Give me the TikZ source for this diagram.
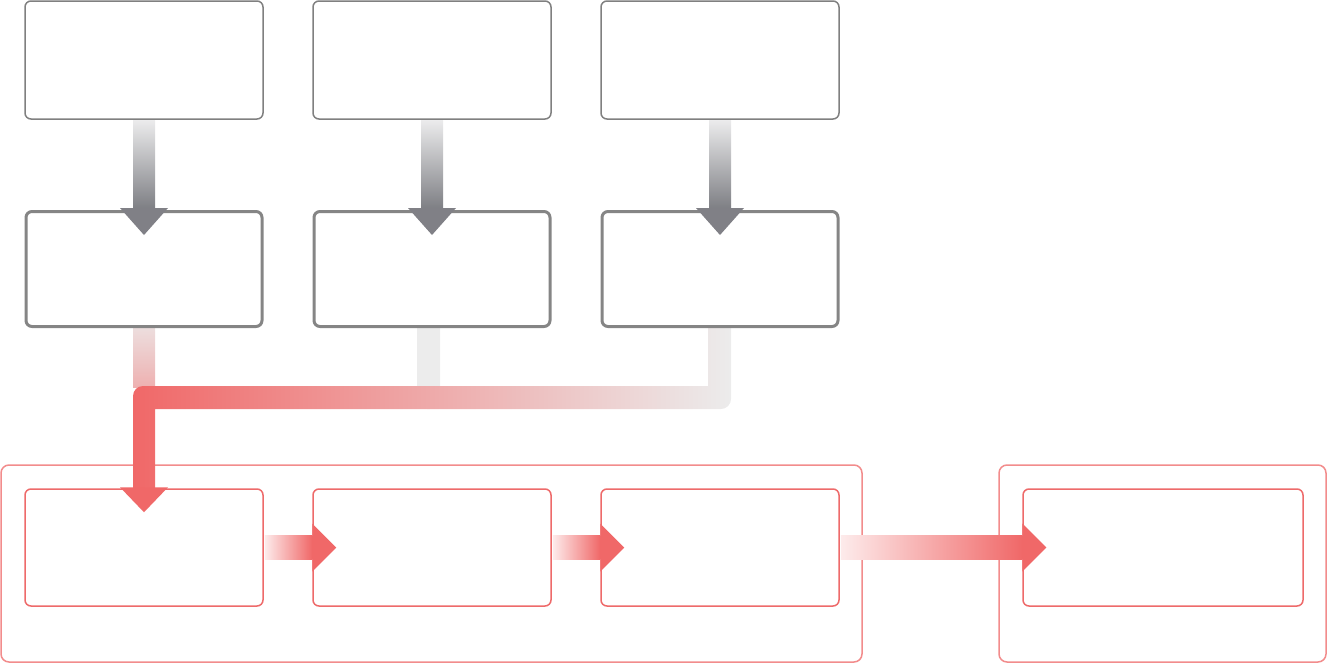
\documentclass[tikz,border=0pt]{standalone}
\usetikzlibrary{calc}
\definecolor{redc}{HTML}{F06868}
\definecolor{redb}{HTML}{EE6A6A}
\definecolor{redl}{HTML}{F28C8C}
\definecolor{grayb}{HTML}{808080}
\definecolor{graybb}{HTML}{858585}
\definecolor{grayhead}{HTML}{808086}
\definecolor{graytop}{HTML}{EBEBEC}
\definecolor{graybot}{HTML}{7E7F84}
\definecolor{fade}{HTML}{ECECEC}
\definecolor{bandmid}{RGB}{206,160,160}
\definecolor{pinkfade}{HTML}{FDEBEB}
\tikzset{
  topbox/.style={draw=grayb, line width=1.5pt, fill=white, rounded corners=6pt, minimum width=238pt, minimum height=118pt, inner sep=0pt},
  midbox/.style={draw=graybb, line width=3pt, fill=white, rounded corners=6pt, minimum width=236pt, minimum height=115pt, inner sep=0pt},
  lowbox/.style={draw=redb, line width=1.5pt, fill=white, rounded corners=6pt, minimum width=238pt, minimum height=117pt, inner sep=0pt},
  container/.style={draw=redl, line width=1.5pt, fill=white, rounded corners=8pt, inner sep=0pt},
}
\begin{document}
\begin{tikzpicture}[x=1pt,y=-1pt]
\useasboundingbox (0,0) rectangle (1328,664);
% containers
\node[container, minimum width=861pt, minimum height=197pt] (c1) at (431.5,563.5) {};
\node[container, minimum width=327pt, minimum height=197pt] (c2) at (1162.5,563.5) {};
% coordinates
\path (144,269) coordinate (b1c) (432,269) coordinate (b2c) (720,269) coordinate (b3c);
\coordinate (j) at (144,397);
% merge connector (drawn under boxes)
\fill[fade, rounded corners=10pt] ($(b2c)+(-15,0)$) rectangle ($(j -| b2c)+(8,12)$);
\shade[top color=fade, bottom color=fade!55!redc] ($(b1c)+(-11,40)$) rectangle ($(j)+(11,-10)$);
\begin{scope}
  \clip[rounded corners=10pt] ($(j)+(-11,-11)$) rectangle ($(j -| b3c)+(11,12)$)
       [sharp corners] ($(b3c)+(-12,0)$) rectangle ($(j -| b3c)+(11,0)$)
       ($(j)+(-11,0)$) rectangle ($(j)+(11,93)$);
  \shade[left color=redc, middle color=bandmid, right color=fade] ($(j)+(-11,-200)$) rectangle ($(j -| b3c)+(11,100)$);
\end{scope}
% boxes
\node[topbox] (a1) at (144,60) {};
\node[topbox] (a2) at (432,60) {};
\node[topbox] (a3) at (720,60) {};
\node[midbox] (b1) at (b1c) {};
\node[midbox] (b2) at (b2c) {};
\node[midbox] (b3) at (b3c) {};
\node[lowbox] (d1) at (144,547.5) {};
\node[lowbox] (d2) at (432,547.5) {};
\node[lowbox] (d3) at (720,547.5) {};
\node[lowbox, minimum width=280pt] (d4) at (1163,547.5) {};
% gray arrows
\foreach \u/\v in {a1/b1,a2/b2,a3/b3}{
  \shade[top color=graytop, bottom color=graybot] ($(\u.south)+(-11,0.75)$) rectangle ($(\v.north)+(11,-1.5)$);
  \fill[grayhead] ($(\v.north)+(-24,-2)$) -- ($(\v.north)+(24,-2)$) -- ($(\v.north)+(0,25)$) -- cycle;
}
% red arrowhead of merge connector
\fill[redc] ($(d1.north)+(-24,-1)$) -- ($(d1.north)+(24,-1)$) -- ($(d1.north)+(0,24)$) -- cycle;
% red horizontal arrows
\foreach \u/\v in {d1/d2,d2/d3,d3/d4}{
  \shade[left color=pinkfade, right color=redc] ($(\u.east)+(1,-12)$) rectangle ($(\v.west)+(0,12)$);
  \fill[redc] ($(\v.west)+(0,-24)$) -- ($(\v.west)+(24,0)$) -- ($(\v.west)+(0,24)$) -- cycle;
}
\end{tikzpicture}
\end{document}
